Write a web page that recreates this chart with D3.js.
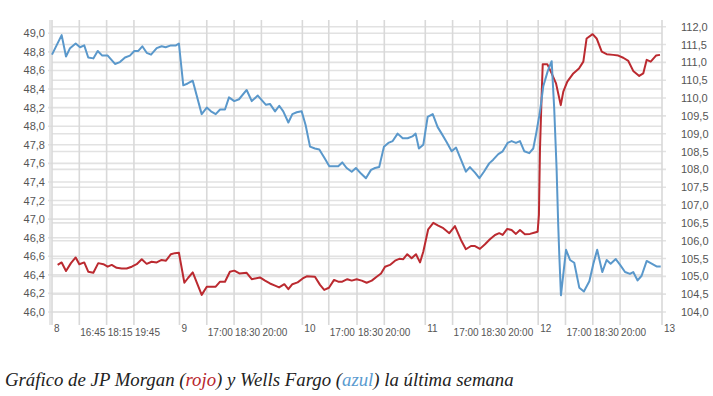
<!DOCTYPE html>
<html>

<head>
    <meta charset="UTF-8">
    <style>
        body { margin: 0; background: #fff; }
        svg { display: block; }
        .tick-label { font-family: "Liberation Sans", Arial, sans-serif; font-size: 11px; fill: #555; }
        .x-label { font-size: 10px; }
        .caption { font-family: "Liberation Serif", "Times New Roman", serif; font-style: italic; font-size: 18.8px; fill: #222; }
    </style>
    <script src="https://d3js.org/d3.v7.min.js"></script>
</head>

<body>
    <svg></svg>

    <script>
        let width = 713, height = 396;

        // trading-time positions (hours since the first point) and labels of the x ticks
        let dayTicks = [0, 7, 13.75, 20.5, 26.7, 33.5];
        let dayLabels = ["8", "9", "10", "11", "12", "13"];
        let timeTicks = [1.5, 3, 4.5, 8.5, 10, 11.5, 15.2, 16.75, 18.25, 22, 23.5, 25, 28.2, 29.7, 31.2];
        let timeLabels = ["16:45", "18:15", "19:45", "17:00", "18:30", "20:00", "17:00", "18:30", "20:00",
            "17:00", "18:30", "20:00", "17:00", "18:30", "20:00"];

        let leftTicks = d3.range(46, 49.01, 0.2);
        let rightTicks = d3.range(104, 112.01, 0.5);

        // Wells Fargo (blue, left axis): [time, price]
        let wellsFargo = [
            [0, 48.77], [0.53, 48.98], [0.77, 48.75], [0.99, 48.84], [1.30, 48.89], [1.54, 48.85], [1.77, 48.87],
            [1.99, 48.74], [2.27, 48.73], [2.51, 48.81], [2.76, 48.76], [3.06, 48.76], [3.46, 48.67], [3.73, 48.69],
            [4.01, 48.74], [4.28, 48.76], [4.52, 48.81], [4.74, 48.81], [4.96, 48.86], [5.20, 48.79], [5.44, 48.77],
            [5.75, 48.84], [6.02, 48.86], [6.24, 48.85], [6.53, 48.87], [6.81, 48.87], [6.97, 48.89], [7.21, 48.44],
            [7.45, 48.46], [7.73, 48.49], [8.22, 48.13], [8.50, 48.20], [8.73, 48.16], [8.99, 48.13], [9.23, 48.18],
            [9.50, 48.18], [9.72, 48.31], [10.01, 48.27], [10.27, 48.29], [10.69, 48.39], [10.97, 48.27], [11.30, 48.33],
            [11.75, 48.23], [11.97, 48.24], [12.25, 48.16], [12.48, 48.22], [12.70, 48.16], [12.98, 48.04], [13.20, 48.13],
            [13.44, 48.15], [13.71, 48.16], [13.93, 48.01], [14.17, 47.78], [14.44, 47.76], [14.68, 47.75], [14.99, 47.65],
            [15.23, 47.57], [15.54, 47.57], [15.72, 47.57], [15.94, 47.61], [16.18, 47.55], [16.46, 47.51], [16.69, 47.55],
            [16.97, 47.49], [17.24, 47.44], [17.52, 47.53], [17.74, 47.55], [17.97, 47.56], [18.23, 47.78], [18.47, 47.82],
            [18.71, 47.84], [18.98, 47.92], [19.26, 47.87], [19.53, 47.87], [19.79, 47.89], [19.97, 47.92], [20.15, 47.76],
            [20.39, 47.80], [20.63, 48.10], [20.91, 48.13], [21.18, 47.99], [21.40, 47.92], [21.67, 47.83], [21.95, 47.73],
            [22.19, 47.77], [22.46, 47.64], [22.73, 47.51], [22.95, 47.56], [23.23, 47.50], [23.47, 47.44], [23.72, 47.51],
            [24.01, 47.60], [24.23, 47.64], [24.51, 47.70], [24.75, 47.73], [25.02, 47.82], [25.24, 47.84], [25.48, 47.82],
            [25.70, 47.84], [25.94, 47.73], [26.21, 47.71], [26.43, 47.76], [26.58, 47.91], [26.80, 48.16], [26.98, 48.43],
            [27.22, 48.59], [27.44, 48.70], [27.58, 48.19], [27.71, 47.55], [27.80, 46.94], [27.86, 46.61], [27.95, 46.18],
            [28.23, 46.67], [28.45, 46.56], [28.68, 46.53], [28.96, 46.26], [29.21, 46.22], [29.51, 46.33], [29.73, 46.52],
            [29.94, 46.67], [30.22, 46.43], [30.46, 46.56], [30.68, 46.52], [30.96, 46.57], [31.19, 46.51], [31.47, 46.43],
            [31.74, 46.41], [31.92, 46.43], [32.16, 46.34], [32.38, 46.39], [32.66, 46.55], [32.93, 46.52], [33.20, 46.49],
            [33.43, 46.49]
        ];

        // JP Morgan (red, right axis): [time, price]
        let jpMorgan = [
            [0.31, 105.32], [0.53, 105.39], [0.77, 105.15], [1.04, 105.37], [1.30, 105.53], [1.50, 105.34], [1.77, 105.39],
            [1.99, 105.13], [2.27, 105.10], [2.54, 105.37], [2.82, 105.34], [3.06, 105.27], [3.28, 105.32], [3.55, 105.24],
            [3.83, 105.22], [4.10, 105.22], [4.38, 105.27], [4.65, 105.34], [4.93, 105.48], [5.20, 105.35], [5.47, 105.41],
            [5.75, 105.39], [6.02, 105.46], [6.26, 105.44], [6.53, 105.62], [6.75, 105.65], [6.97, 105.66], [7.27, 104.82],
            [7.48, 104.96], [7.73, 105.11], [8.22, 104.48], [8.50, 104.71], [8.99, 104.71], [9.23, 104.85], [9.50, 104.85],
            [9.77, 105.13], [10.01, 105.16], [10.29, 105.08], [10.69, 105.10], [10.97, 104.92], [11.42, 104.97], [11.70, 104.88],
            [11.97, 104.80], [12.25, 104.74], [12.47, 104.69], [12.76, 104.78], [12.98, 104.64], [13.20, 104.78], [13.49, 104.83],
            [13.77, 104.94], [13.99, 105.00], [14.44, 104.99], [14.72, 104.76], [14.95, 104.62], [15.21, 104.68], [15.49, 104.90],
            [15.72, 104.85], [15.94, 104.85], [16.22, 104.92], [16.46, 104.88], [16.73, 104.92], [17.01, 104.88], [17.28, 104.82],
            [17.56, 104.88], [17.83, 104.99], [18.07, 105.08], [18.29, 105.27], [18.56, 105.32], [18.84, 105.44], [19.07, 105.49],
            [19.29, 105.48], [19.51, 105.62], [19.75, 105.51], [19.99, 105.62], [20.21, 105.39], [20.39, 105.69], [20.66, 106.32],
            [20.94, 106.50], [21.21, 106.42], [21.49, 106.35], [21.82, 106.21], [22.13, 106.41], [22.46, 106.02], [22.73, 105.76],
            [23.01, 105.85], [23.23, 105.85], [23.50, 105.77], [23.78, 105.90], [24.05, 106.04], [24.33, 106.16], [24.56, 106.21],
            [24.75, 106.16], [25.00, 106.33], [25.24, 106.30], [25.48, 106.19], [25.70, 106.30], [25.97, 106.18], [26.25, 106.19],
            [26.52, 106.23], [26.67, 106.25], [26.74, 106.72], [26.80, 108.59], [26.89, 110.08], [26.95, 110.95], [27.20, 110.95],
            [27.44, 110.69], [27.68, 110.41], [27.94, 109.80], [28.08, 110.18], [28.30, 110.46], [28.63, 110.69], [28.94, 110.83],
            [29.18, 111.02], [29.36, 111.67], [29.69, 111.79], [29.91, 111.67], [30.19, 111.30], [30.46, 111.23], [30.82, 111.21],
            [31.10, 111.19], [31.37, 111.13], [31.65, 111.04], [31.92, 110.76], [32.25, 110.62], [32.47, 110.69], [32.66, 111.07],
            [32.88, 111.02], [33.17, 111.19], [33.39, 111.21]
        ];

        let svg = d3.select("svg")
            .attr("width", width)
            .attr("height", height);

        let plotTop = 20, plotBottom = 322;

        let x = d3.scaleLinear().domain([0, 33.5]).range([52, 662]);
        let yLeft = d3.scaleLinear().domain([46, 49]).range([312, 33.3]);
        let yRight = d3.scaleLinear().domain([104, 112]).range([312, 26.7]);

        // horizontal grid (both axes draw their own lines)
        let grid = svg.append("g").attr("id", "grid");
        grid.selectAll(".hl")
            .data(leftTicks)
            .enter()
            .append("line")
            .attr("x1", 48).attr("x2", 662)
            .attr("y1", d => yLeft(d)).attr("y2", d => yLeft(d))
            .attr("stroke", "#e2e2e2").attr("stroke-width", 1.6);
        grid.selectAll(".hr")
            .data(rightTicks)
            .enter()
            .append("line")
            .attr("x1", 52).attr("x2", 666)
            .attr("y1", d => yRight(d)).attr("y2", d => yRight(d))
            .attr("stroke", "#e2e2e2").attr("stroke-width", 1.6);

        // vertical grid
        grid.selectAll(".v")
            .data(dayTicks.concat(timeTicks))
            .enter()
            .append("line")
            .attr("x1", d => x(d)).attr("x2", d => x(d))
            .attr("y1", plotTop).attr("y2", plotBottom + 3)
            .attr("stroke", "#d9d9d9").attr("stroke-width", 1.6);
        grid.append("line")
            .attr("x1", 50).attr("x2", 50)
            .attr("y1", plotTop).attr("y2", plotBottom + 3)
            .attr("stroke", "#dcdcdc").attr("stroke-width", 1.4);

        // axis labels
        svg.append("g").selectAll("text")
            .data(leftTicks)
            .enter()
            .append("text")
            .attr("class", "tick-label")
            .attr("x", 45)
            .attr("y", d => yLeft(d) + 4)
            .attr("text-anchor", "end")
            .text(d => d3.format(".1f")(d).replace(".", ","));

        svg.append("g").selectAll("text")
            .data(rightTicks)
            .enter()
            .append("text")
            .attr("class", "tick-label")
            .attr("x", 681)
            .attr("y", d => yRight(d) + 4)
            .text(d => d3.format(".1f")(d).replace(".", ","));

        svg.append("g").selectAll("text")
            .data(dayTicks)
            .enter()
            .append("text")
            .attr("class", "tick-label x-label")
            .attr("x", d => x(d) + 2)
            .attr("y", 332)
            .text((d, i) => dayLabels[i]);

        svg.append("g").selectAll("text")
            .data(timeTicks)
            .enter()
            .append("text")
            .attr("class", "tick-label x-label")
            .attr("x", d => x(d) + 1)
            .attr("y", 336)
            .text((d, i) => timeLabels[i]);

        // series
        let lineLeft = d3.line().x(d => x(d[0])).y(d => yLeft(d[1]));
        let lineRight = d3.line().x(d => x(d[0])).y(d => yRight(d[1]));

        svg.append("path")
            .datum(jpMorgan)
            .attr("d", lineRight)
            .attr("fill", "none")
            .attr("stroke", "#bb2a30")
            .attr("stroke-width", 2)
            .attr("stroke-linejoin", "round");

        svg.append("path")
            .datum(wellsFargo)
            .attr("d", lineLeft)
            .attr("fill", "none")
            .attr("stroke", "#5a98cb")
            .attr("stroke-width", 2)
            .attr("stroke-linejoin", "round");

        // caption
        let cap = svg.append("text")
            .attr("class", "caption")
            .attr("x", 5)
            .attr("y", 386);
        cap.append("tspan").text("Gráfico de JP Morgan (");
        cap.append("tspan").attr("fill", "#b8262c").text("rojo");
        cap.append("tspan").text(") y Wells Fargo (");
        cap.append("tspan").attr("fill", "#5b9bd0").text("azul");
        cap.append("tspan").text(") la última semana");
    </script>

</body>

</html>
